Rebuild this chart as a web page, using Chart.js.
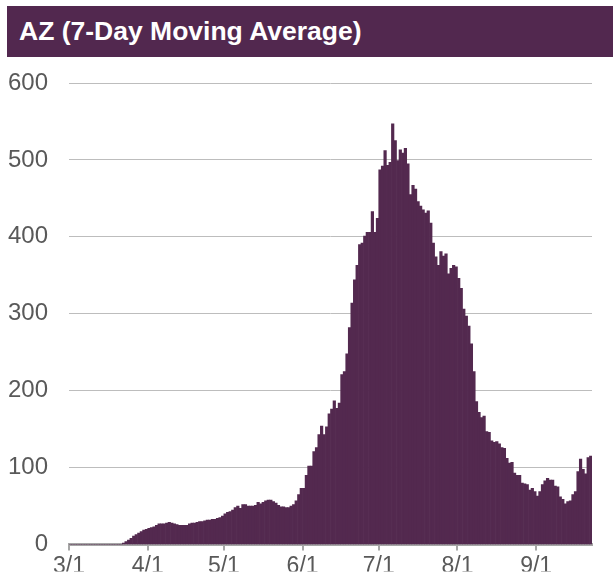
<!DOCTYPE html>
<html><head><meta charset="utf-8">
<script src="https://cdn.jsdelivr.net/npm/chart.js@4/dist/chart.umd.min.js"></script>
<style>
html,body{margin:0;padding:0;background:#fff;}
#wrap{position:relative;width:613px;height:580px;overflow:hidden;}
#title{position:absolute;left:7px;top:6px;width:606px;height:51px;background:#52284f;color:#fff;font:bold 26.5px "Liberation Sans",Arial,sans-serif;line-height:51px;padding-left:12px;box-sizing:border-box;white-space:nowrap;}
canvas{position:absolute;left:0;top:0;}
</style></head><body>
<div id="wrap"><canvas id="c" width="613" height="580"></canvas><div id="title"></div></div>
<script>
const chartTitle = "AZ (7-Day Moving Average)";
const marchValues = [0,0,0,0,0,0,0,0,0,0,0,0,0,0,0,0,0,0,0,0,0,2,4,6,8,11,13,15,17,19,20];
const aprilValues = [21,22,23,25,27,27,27,28,29,28,27,26,25,25,25,25,27,28,28,29,30,30,31,32,32,33,33,34,35,37];
const mayValues = [40,42,43,45,48,50,47,52,52,50,50,50,51,55,53,55,57,58,58,56,54,51,49,49,48,48,50,52,57,65,73];
const juneValues = [73,90,102,102,121,126,143,154,143,153,170,176,187,177,184,221,225,248,282,314,344,363,390,392,401,406,406,433,406,424];
const julyValues = [487,492,512,493,497,547,525,499,513,509,515,495,455,467,462,446,440,435,431,434,418,392,374,363,381,375,378,352,359,363,361];
const augustValues = [346,333,306,297,284,261,225,186,172,165,167,147,146,135,133,134,131,126,125,112,106,107,93,90,90,80,79,78,71,73,69];
const septemberValues = [63,69,78,83,86,84,84,76,75,62,59,53,56,57,65,69,95,111,98,92,113,115];
const tickDays = [0,31,61,92,122,153,184];
const tickLabels = ["3/1","4/1","5/1","6/1","7/1","8/1","9/1"];
const yTicks = [0,100,200,300,400,500,600];

document.getElementById('title').textContent = chartTitle;
const values = [].concat(marchValues, aprilValues, mayValues, juneValues, julyValues, augustValues, septemberValues);
const points = values.map((v,i)=>({x:i+0.5,y:v}));
const FONT = '"Liberation Sans", Arial, sans-serif';

new Chart(document.getElementById('c'), {
  type:'bar',
  data:{datasets:[{data:points, backgroundColor:'#53294f', borderWidth:0, barPercentage:1, categoryPercentage:1}]},
  options:{
    responsive:false, animation:false, devicePixelRatio:1,
    layout:{padding:{top:83,right:21,left:0,bottom:0}},
    plugins:{legend:{display:false}, tooltip:{enabled:false}, title:{display:false}},
    scales:{
      x:{type:'linear', min:0, max:values.length, z:1, offset:false,
        afterBuildTicks:s=>{s.ticks = tickDays.map(v=>({value:v}));},
        afterFit:s=>{s.height=27;},
        grid:{offset:false, drawOnChartArea:false, drawTicks:true, tickLength:6, color:'#a6a6a6', lineWidth:2},
        border:{display:true, color:'#a6a6a6', width:3},
        ticks:{autoSkip:false, maxRotation:0, padding:2, color:'#595959', font:{family:FONT, size:23},
          callback:(v)=>{const k=tickDays.indexOf(v); return k>=0?tickLabels[k]:'';}}
      },
      y:{min:0, max:600,
        afterBuildTicks:s=>{s.ticks = yTicks.map(v=>({value:v}));},
        afterFit:s=>{s.width=69;},
        grid:{drawTicks:false, color:'#bdbdbd', lineWidth:1},
        border:{display:false},
        ticks:{padding:21, color:'#595959', font:{family:FONT, size:24}}
      }
    }
  }
});
</script>
</body></html>
